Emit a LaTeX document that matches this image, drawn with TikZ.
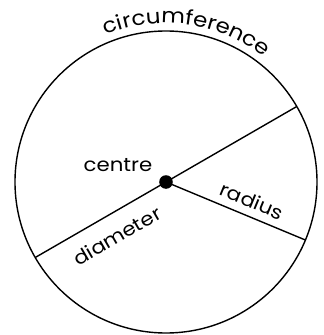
\documentclass[tikz,border=0pt]{standalone}
\usepackage{fontspec}
\setmainfont[FakeStretch=1.12]{Poppins}
\usetikzlibrary{decorations.text}
\begin{document}
\begin{tikzpicture}[x=1pt,y=1pt, line width=1.4pt,
  lbl/.style={font=\fontsize{19}{22}\selectfont, inner sep=0pt}]
\useasboundingbox (-166,-153) rectangle (158,182);
\coordinate (O) at (0,0);
\node[draw, circle, minimum size=302pt, inner sep=0pt] (C) at (O) {};
\coordinate (D1) at (30:151);
\coordinate (D2) at (210:151);
\coordinate (R) at (-22.6:151);
\draw (D2) -- (D1);
\draw (O) -- (R);
\fill (O) circle (6.8);
\node[lbl] (centre) at (-48,17) {centre};
\node[lbl, rotate=-22.6] (radius) at (86,-19) {radius};
\node[lbl, rotate=30] (diameter) at (-49,-54) {diameter};
\path[decorate, decoration={text along path, text={|\fontsize{20.5}{24}\selectfont|circumference}, text align=center}] (132:159) arc (132:32:159);
\end{tikzpicture}
\end{document}
